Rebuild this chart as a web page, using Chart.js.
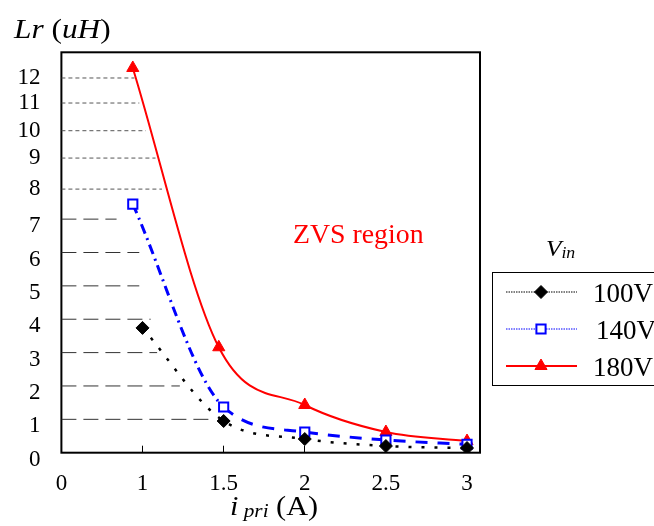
<!DOCTYPE html>
<html>
<head>
<meta charset="utf-8">
<title>Lr vs ipri</title>
<script src="https://cdn.jsdelivr.net/npm/chart.js@4.4.1/dist/chart.umd.min.js"></script>
<style>
  html, body { margin: 0; padding: 0; background: #fff; }
  canvas { display: block; }
</style>
</head>
<body>
<canvas id="lrChart" width="654" height="526"></canvas>
<script>
// primary current (A) vs resonant inductance (uH), one pair of arrays per input voltage
const iPri100 = [1.0, 1.5, 2.0, 2.5, 3.0];
const lr100 = [3.74, 0.95, 0.41, 0.20, 0.14];
const iPri140 = [0.94, 1.5, 2.0, 2.5, 3.0];
const lr140 = [7.5, 1.37, 0.62, 0.38, 0.25];
const iPri180 = [0.94, 1.47, 2.0, 2.5, 3.0];
const lr180 = [12.4, 3.16, 1.43, 0.62, 0.35];
const seriesLabels = ['100V', '140V', '180V'];

// hand drawn guide lines: Lr level and the current where each one stops
const guideLevels = [1, 2, 3, 4, 5, 6, 7, 8, 9, 10, 11, 12];
const guideEnds = [1.43, 1.23, 1.09, 1.05, 0.98, 0.98, 0.84, 1.12, 1.08, 1.02, 0.98, 0.95];

const xTicks = [0, 1, 1.5, 2, 2.5, 3];
const yTicks = [0, 1, 2, 3, 4, 5, 6, 7, 8, 9, 10, 11, 12];

const FONT = "'Liberation Serif', 'Times New Roman', serif";

// the original axes are not uniform: 0..1 on x is squeezed, 8..12 on y is squeezed
const axisBreaks = {
  x: { from: [0, 0.75, 3], to: [0.5, 0.75, 3] },
  y: { from: [0, 7, 8, 9, 10, 11, 12], to: [0, 7, 7.9, 8.83, 9.65, 10.48, 11.23], dropUpTo: 7, drop: 7 }
};

function warp(v, from, to) {
  const n = from.length;
  if (v <= from[0]) return to[0] + (v - from[0]) * (to[1] - to[0]) / (from[1] - from[0]);
  for (let i = 1; i < n; i++) {
    if (v <= from[i]) {
      const t = (v - from[i - 1]) / (from[i] - from[i - 1]);
      return to[i - 1] + t * (to[i] - to[i - 1]);
    }
  }
  const k = (to[n - 1] - to[n - 2]) / (from[n - 1] - from[n - 2]);
  return to[n - 1] + (v - from[n - 1]) * k;
}

class BrokenScale extends Chart.LinearScale {
  getPixelForValue(value) {
    if (value === null || value === undefined || isNaN(value)) return NaN;
    const b = axisBreaks[this.id];
    return super.getPixelForValue(warp(value, b.from, b.to));
  }
  _computeLabelItems(chartArea) {
    const items = super._computeLabelItems(chartArea);
    const b = axisBreaks[this.id];
    if (b.drop) {
      items.forEach(it => {
        if (Number(it.label) <= b.dropUpTo) it.options.translation[1] += b.drop;
      });
    }
    return items;
  }
}
BrokenScale.id = 'broken';
BrokenScale.defaults = {};
Chart.register(BrokenScale);

function pairs(xs, ys) {
  return xs.map((x, i) => ({ x: x, y: ys[i] }));
}

function guideData(lo, hi) {
  const pts = [];
  guideLevels.forEach((lv, i) => {
    if (lv < lo || lv > hi) return;
    pts.push({ x: 0, y: lv }, { x: guideEnds[i], y: lv }, { x: null, y: null });
  });
  return pts;
}

const framePlugin = {
  id: 'frame',
  beforeDatasetsDraw(chart) {
    const a = chart.chartArea;
    const ctx = chart.ctx;
    ctx.save();
    ctx.strokeStyle = '#000';
    ctx.lineWidth = 2;
    ctx.strokeRect(a.left, a.top, a.right - a.left, a.bottom - a.top);
    ctx.restore();
  }
};

function drawRuns(ctx, runs, x, y, stretch) {
  ctx.save();
  ctx.translate(x, y);
  ctx.scale(stretch, 1);
  let cx = 0;
  runs.forEach(r => {
    ctx.font = r.font;
    ctx.fillText(r.text, cx, r.dy || 0);
    cx += ctx.measureText(r.text).width;
  });
  ctx.restore();
}

const textPlugin = {
  id: 'texts',
  afterDraw(chart) {
    const ctx = chart.ctx;
    ctx.save();
    ctx.fillStyle = '#000';
    ctx.textBaseline = 'alphabetic';
    // y axis title
    drawRuns(ctx, [
      { text: 'Lr', font: 'italic 28px ' + FONT },
      { text: ' (', font: '28px ' + FONT },
      { text: 'uH', font: 'italic 28px ' + FONT },
      { text: ')', font: '28px ' + FONT }
    ], 14, 38, 1.12);
    // x axis title
    drawRuns(ctx, [
      { text: 'i', font: 'italic 27px ' + FONT },
      { text: ' pri', font: 'italic 19px ' + FONT, dy: 2 },
      { text: ' (A)', font: '27px ' + FONT }
    ], 230, 515, 1.12);
    // region note
    ctx.fillStyle = '#ff0000';
    drawRuns(ctx, [{ text: 'ZVS region', font: '27px ' + FONT }], 293, 243, 1.03);

    // legend
    ctx.fillStyle = '#000';
    drawRuns(ctx, [
      { text: 'V', font: 'italic 24px ' + FONT },
      { text: 'in', font: 'italic 17px ' + FONT, dy: 2 }
    ], 546, 256, 1.05);
    ctx.strokeStyle = '#000';
    ctx.lineWidth = 1;
    ctx.strokeRect(492.5, 272.5, 170, 113);
    chart.data.datasets.slice(0, 3).forEach((ds, i) => {
      const y = 292 + i * 37;
      ctx.save();
      ctx.strokeStyle = ds.borderColor;
      ctx.lineWidth = i === 2 ? 2 : 1;
      ctx.setLineDash(i === 2 ? [] : [1.5, 1]);
      ctx.beginPath();
      ctx.moveTo(506, y);
      ctx.lineTo(577, y);
      ctx.stroke();
      ctx.setLineDash([]);
      ctx.fillStyle = ds.pointBackgroundColor;
      ctx.strokeStyle = ds.borderColor;
      ctx.lineWidth = ds.pointBorderWidth;
      Chart.helpers.drawPoint(ctx, {
        pointStyle: ds.pointStyle, radius: ds.pointRadius, rotation: 0, borderWidth: ds.pointBorderWidth
      }, 541, y);
      ctx.restore();
      ctx.fillStyle = '#000';
      ctx.font = '27px ' + FONT;
      ctx.textBaseline = 'middle';
      ctx.fillText(ds.label, i === 1 ? 596 : 593, y + 3);
    });
    ctx.restore();
  }
};

const ctx = document.getElementById('lrChart').getContext('2d');

new Chart(ctx, {
  type: 'line',
  data: {
    datasets: [
      {
        label: seriesLabels[0],
        data: pairs(iPri100, lr100),
        borderColor: '#000000',
        borderWidth: 2.5,
        borderDash: [3, 10],
        pointStyle: 'rectRot',
        pointRadius: 6.5,
        pointBackgroundColor: '#000000',
        pointBorderColor: '#000000',
        pointBorderWidth: 1,
        cubicInterpolationMode: 'monotone'
      },
      {
        label: seriesLabels[1],
        data: pairs(iPri140, lr140),
        borderColor: '#0000ff',
        borderWidth: 3,
        segment: {
          borderDash: c => c.p0DataIndex === 0 ? [10, 5, 2, 5] : [12, 10]
        },
        pointStyle: 'rect',
        pointRadius: 6.5,
        pointBackgroundColor: '#ffffff',
        pointBorderColor: '#0000ff',
        pointBorderWidth: 2,
        cubicInterpolationMode: 'monotone'
      },
      {
        label: seriesLabels[2],
        data: pairs(iPri180, lr180),
        borderColor: '#ff0000',
        borderWidth: 2,
        pointStyle: 'triangle',
        pointRadius: 7,
        pointBackgroundColor: '#ff0000',
        pointBorderColor: '#ff0000',
        pointBorderWidth: 1,
        cubicInterpolationMode: 'monotone'
      },
      {
        label: 'guides low',
        data: guideData(1, 7),
        borderColor: '#333333',
        borderWidth: 1,
        borderDash: [15, 7],
        pointRadius: 0,
        spanGaps: false
      },
      {
        label: 'guides high',
        data: guideData(8, 12),
        borderColor: '#555555',
        borderWidth: 1,
        borderDash: [4, 3],
        pointRadius: 0,
        spanGaps: false
      }
    ]
  },
  options: {
    responsive: false,
    animation: false,
    events: [],
    layout: { padding: { top: 52.3, right: 174, left: 0, bottom: 0 } },
    plugins: {
      legend: { display: false },
      tooltip: { enabled: false }
    },
    scales: {
      x: {
        type: 'broken',
        min: 0.5,
        max: 3.08,
        afterBuildTicks: s => { s.ticks = xTicks.map(v => ({ value: v })); },
        afterFit: s => { s.height = 73.3; },
        grid: { drawOnChartArea: false, drawTicks: true, tickLength: -7, color: '#000', lineWidth: 1 },
        border: { display: false },
        ticks: {
          autoSkip: false,
          maxRotation: 0,
          padding: 24.5,
          color: '#000',
          font: { family: FONT, size: 23 },
          callback: v => String(v)
        }
      },
      y: {
        type: 'broken',
        min: 0,
        max: 12,
        afterBuildTicks: s => { s.ticks = yTicks.map(v => ({ value: v })); },
        afterFit: s => { s.width = 61.4; },
        grid: { display: false, drawTicks: false },
        border: { display: false },
        ticks: {
          autoSkip: false,
          padding: 21,
          color: '#000',
          font: { family: FONT, size: 23 },
          callback: v => String(v)
        }
      }
    }
  },
  plugins: [framePlugin, textPlugin]
});
</script>
</body>
</html>
